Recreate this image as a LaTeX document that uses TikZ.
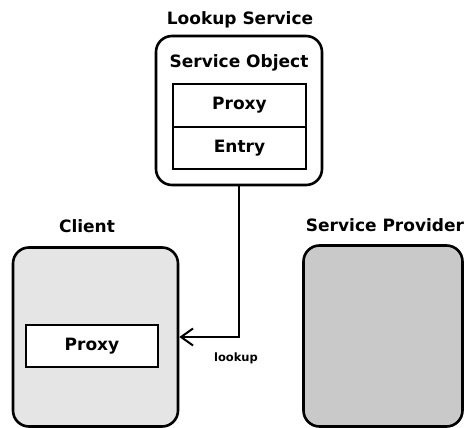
\documentclass[tikz,border=0pt]{standalone}
\usepackage{fontspec}
\setmainfont{DejaVu Sans}
\usetikzlibrary{arrows.meta}
\begin{document}
\begin{tikzpicture}[x=1pt,y=-1pt,
  box/.style={draw,line width=2.6pt,rounded corners=16pt,inner sep=0pt},
  part/.style={draw,line width=2.2pt,fill=white,minimum width=133pt,minimum height=43pt,inner sep=0pt,font=\bfseries\fontsize{17}{20}\selectfont},
  title/.style={anchor=base,inner sep=0pt,font=\bfseries\fontsize{17}{20}\selectfont}]
  \useasboundingbox (0,0) rectangle (464,428);

  \node [box,minimum width=166pt,minimum height=149pt] (lookup) at (239,110.5) {};
  \node [title] (lookuptitle) at (240,25) {Lookup Service};
  \node [title] (objtitle) at (239,68) {Service Object};
  \node [part] (proxy) at (239.5,105.5) {Proxy};
  \node [part,minimum height=42pt] (entry) at (239.5,148) {Entry};

  \node [box,fill=gray!20,minimum width=165pt,minimum height=179pt] (client) at (95.5,337) {};
  \node [title] (clienttitle) at (87,232) {Client};
  \node [part,minimum width=132pt,minimum height=42pt] (cproxy) at (92,346) {Proxy};

  \node [box,fill=gray!42,minimum width=159pt,minimum height=181pt] (provider) at (383,336) {};
  \node [title] (providertitle) at (385,231) {Service Provider};

  \draw [line width=2.2pt,-{Straight Barb[length=12pt,width=17pt,line width=2pt]}] (lookup.south) |- (client.east);
  \node [anchor=base,inner sep=0pt,font=\bfseries\fontsize{11.5}{13}\selectfont] (lookuplabel) at (236,361) {lookup};
\end{tikzpicture}
\end{document}
